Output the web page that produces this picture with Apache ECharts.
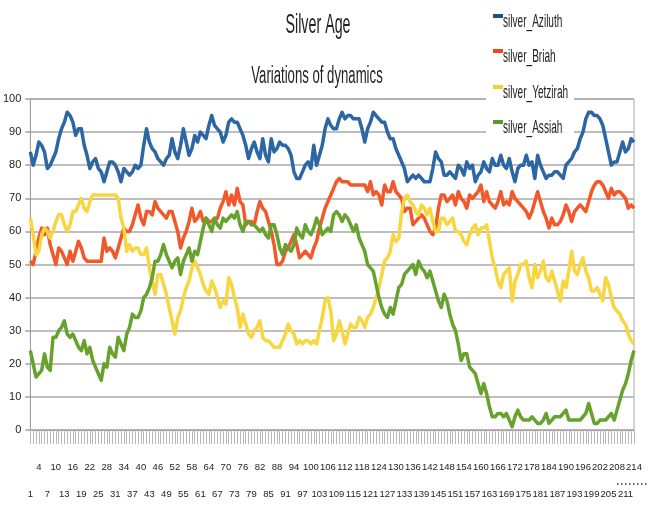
<!DOCTYPE html>
<html>
<head>
<meta charset="utf-8">
<script src="https://cdn.jsdelivr.net/npm/echarts@6/dist/echarts.min.js"></script>
<style>html,body{margin:0;padding:0;background:#fff;}#c{width:648px;height:507px;}</style>
</head>
<body>
<div id="c"></div>
<script>
var categories = [];
for (var k = 1; k <= 214; k++) categories.push(String(k));

var seriesNames = ['silver_Aziluth', 'silver_Briah', 'silver_Yetzirah', 'silver_Assiah'];
var titleText = 'Silver Age';
var subtitleText = 'Variations of dynamics';

var aziluth = [84,80,83,87,86,84,79,80,82,84, 88,91,93,96,95,93,89,91,91,86, 83,79,81,82,79,78,75,78,81,81,
80,78,75,79,78,77,78,80,79,80, 86,91,87,85,84,82,81,80,82,83, 88,84,82,86,91,87,83,85,89,87,
90,89,88,92,95,92,91,90,87,89, 93,94,93,93,91,89,86,82,85,87, 84,82,88,83,81,88,84,85,87,86,
86,85,83,78,76,76,78,80,81,79, 86,80,83,86,91,94,92,91,91,94, 96,94,95,95,94,94,94,91,87,91,
93,96,95,94,93,93,90,88,88,85, 83,81,79,75,76,77,76,77,76,75, 75,75,79,84,82,81,77,77,78,77,
76,80,79,77,81,79,80,75,77,78, 81,79,78,82,80,80,83,80,79,82, 78,75,79,80,80,83,80,81,76,83,
80,78,76,77,77,78,78,77,76,80, 81,82,84,85,88,90,94,96,96,95, 95,94,92,88,84,80,81,81,84,87,
84,85,88,87];

var briah = [51,50,54,58,61,59,61,56,53,50, 55,54,52,50,54,51,54,57,55,52, 51,51,51,51,51,51,58,54,55,54,
52,55,58,61,60,60,62,65,68,64, 62,66,66,65,69,67,66,65,64,66, 66,63,60,55,58,60,63,67,63,64,
66,63,64,63,63,64,64,67,69,72, 68,71,68,73,69,68,62,63,63,62, 66,69,67,66,63,60,56,50,50,51,
54,55,57,59,56,52,53,54,53,52, 55,57,61,64,67,69,71,73,75,76, 75,75,75,74,74,74,74,74,74,72,
75,71,72,71,68,74,72,72,75,72, 71,70,66,67,67,62,63,64,65,64, 62,60,59,61,67,71,71,69,70,71,
68,72,70,69,67,71,70,71,72,74, 69,72,69,68,67,69,72,68,69,68, 72,70,69,68,67,66,64,66,69,72,
69,66,64,61,64,62,62,63,65,68, 66,63,66,67,68,67,66,69,72,74, 75,75,74,72,70,73,71,72,72,71,
70,67,68,67];

var yetzirah = [64,59,53,54,59,61,60,58,60,63, 65,65,62,60,62,66,66,68,70,67, 66,69,71,71,71,71,71,71,71,71,
71,70,64,61,54,56,54,55,55,53, 53,55,49,45,41,47,47,44,41,37, 33,29,34,36,40,43,45,49,51,49,
47,44,42,41,45,43,40,37,39,38, 46,44,40,37,31,35,32,29,28,30, 31,33,28,27,27,26,25,25,25,27,
29,32,30,29,26,27,26,27,27,26, 27,26,30,34,39,40,36,27,29,33, 30,26,29,32,31,31,34,33,31,34,
35,37,40,43,47,51,52,54,59,57, 58,66,70,71,69,68,66,65,68,67, 65,67,63,60,60,64,64,62,63,64,
60,60,59,57,56,59,61,62,59,61, 61,62,57,52,49,45,43,47,48,49, 39,45,47,50,50,51,46,43,50,46,
48,51,46,45,48,45,42,39,45,43, 48,54,48,47,50,52,48,46,42,42, 43,41,39,46,44,40,37,36,35,33,
32,29,27,26];

var assiah = [24,20,16,17,18,23,19,18,28,28, 30,31,33,29,28,29,27,25,24,27, 23,25,21,19,17,15,20,19,25,23,
22,28,26,24,29,31,35,34,34,36, 40,41,43,46,51,51,53,56,53,51, 49,51,52,47,51,53,55,51,54,53,
57,61,64,62,60,64,62,61,64,63, 64,65,64,66,62,60,63,63,62,62, 61,60,61,59,58,62,62,59,55,53,
56,55,54,56,61,59,58,62,60,59, 61,64,62,59,60,61,60,65,66,65, 63,65,64,62,60,62,58,56,54,50,
49,48,44,40,37,35,34,37,35,39, 43,44,47,48,49,50,47,51,49,48, 46,48,45,42,39,37,41,39,35,32,
30,26,21,23,23,19,18,17,14,11, 14,11,7,4,4,5,5,4,5,3, 1,4,6,4,3,3,3,4,3,2,
2,3,5,2,3,4,4,4,5,6, 3,3,3,3,3,4,5,8,5,2, 2,3,3,3,4,5,3,6,9,12,
14,17,21,24];

var yTicks = [0,10,20,30,40,50,60,70,80,90,100];

var FONT = "'Liberation Sans', Arial, sans-serif";
var colors = ['#2c66a3', '#f2592a', '#f7d640', '#67a22d'];
var legendColors = ['#1d4f8c', '#f0461a', '#f5cf2a', '#5a9a22'];

var chart = echarts.init(document.getElementById('c'), null, {renderer: 'canvas'});
var dataSets = [aziluth, briah, yetzirah, assiah];

function narrowText(str, x, y, size, sx, align) {
  return {
    type: 'text', x: x, y: y, scaleX: sx, scaleY: 1, z: 100,
    style: {
      text: str, fontFamily: FONT, fontSize: size, fill: '#222',
      align: align, textAlign: align, verticalAlign: 'middle', textVerticalAlign: 'middle'
    }
  };
}

var graphics = [
  narrowText(titleText, 318, 25, 28, 0.51, 'center'),
  narrowText(subtitleText, 317, 77, 23.5, 0.56, 'center'),
  {type: 'rect', shape: {x: 486, y: 0, width: 88, height: 141}, style: {fill: '#ffffff'}, z: 90},
  {type: 'line', shape: {x1: 617, y1: 484, x2: 648, y2: 484},
   style: {stroke: '#333', lineWidth: 1.5, lineDash: [1.5, 2.5]}, z: 100}
];
var legendY = [22, 57, 93, 128];
seriesNames.forEach(function (n, i) {
  graphics.push({type: 'rect', shape: {x: 493, y: legendY[i] - 8, width: 10, height: 4},
                 style: {fill: legendColors[i]}, z: 100});
  graphics.push(narrowText(n, 503, legendY[i], 18, 0.56, 'left'));
});

function labelAxis(show, rowRemainder, margin) {
  return {
    type: 'category',
    data: categories,
    boundaryGap: false,
    position: 'bottom',
    axisLine: {show: show, lineStyle: {color: '#a0a0a0', width: 1}},
    axisTick: {show: show, interval: 0, length: 14, lineStyle: {color: '#b8b8b8', width: 1}},
    axisLabel: {
      interval: function (index) { return index % 6 === rowRemainder; },
      margin: margin,
      fontFamily: FONT,
      fontSize: 9.5,
      lineHeight: 12,
      color: '#222'
    },
    splitLine: {show: false}
  };
}

var option = {
  animation: false,
  backgroundColor: '#ffffff',
  legend: {show: false, data: seriesNames},
  grid: {left: 30, right: 14, top: 99, bottom: 77, containLabel: false,
         show: true, borderColor: '#a8a8a8', borderWidth: 1, backgroundColor: 'transparent'},
  xAxis: [labelAxis(true, 3, 31), labelAxis(false, 0, 58)],
  yAxis: {
    type: 'value',
    min: yTicks[0],
    max: yTicks[yTicks.length - 1],
    interval: 10,
    axisLine: {show: true, lineStyle: {color: '#a0a0a0', width: 1}},
    axisTick: {show: true, length: 5, lineStyle: {color: '#a0a0a0', width: 1.5}},
    axisLabel: {fontFamily: FONT, fontSize: 11, color: '#222', margin: 9},
    splitLine: {show: true, lineStyle: {color: '#a8a8a8', width: 1.5}}
  },
  graphic: graphics,
  series: seriesNames.map(function (n, i) {
    return {
      name: n,
      type: 'line',
      xAxisIndex: 0,
      data: dataSets[i],
      showSymbol: false,
      symbol: 'none',
      smooth: false,
      color: colors[i],
      lineStyle: {width: 3.5, color: colors[i], join: 'round'},
      z: 2 + i
    };
  })
};
chart.setOption(option);
</script>
</body>
</html>
